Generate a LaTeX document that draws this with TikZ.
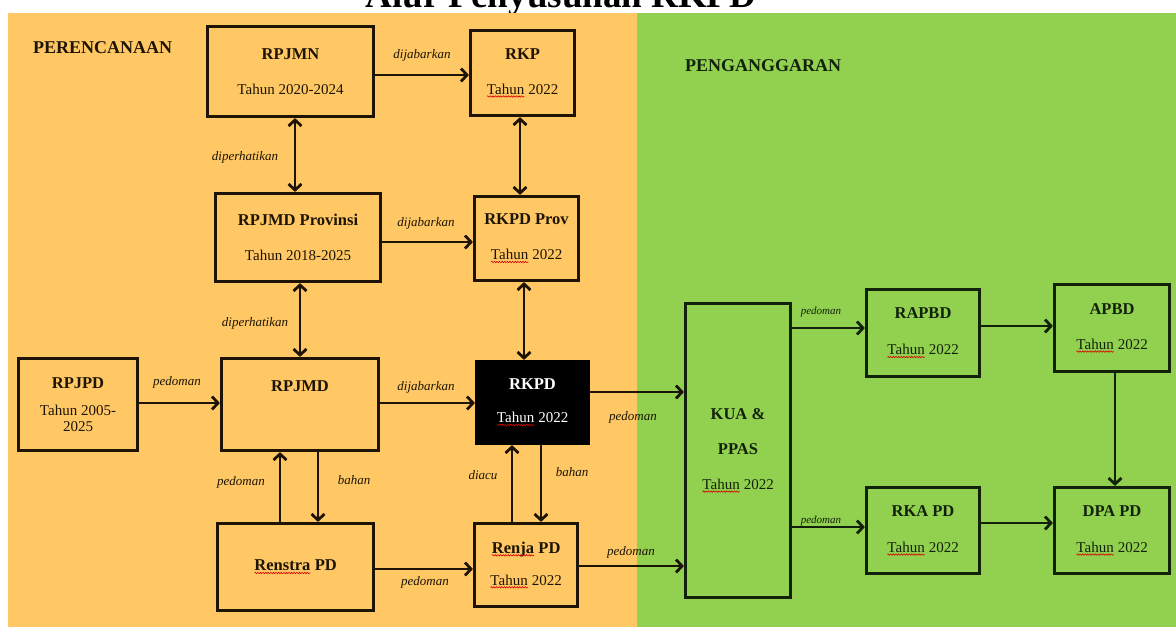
\documentclass[tikz,border=0pt]{standalone}
\usepackage{fontspec}
\setmainfont{Liberation Serif}
\usetikzlibrary{arrows.meta,decorations.pathmorphing}
\definecolor{org}{HTML}{FFC864}
\definecolor{grn}{HTML}{92D050}
\definecolor{inkO}{HTML}{1E1405}
\definecolor{inkG}{HTML}{12220A}
\newcommand\redwave[1]{\tikz[baseline=(w.base)]{\node[shape=rectangle, inner sep=0pt, outer sep=0pt, minimum width=0pt, minimum height=0pt, draw=none, fill=none, align=left] (w) {#1};
  \draw[red!85!black, line width=0.6pt, decorate, decoration={snake, amplitude=0.7pt, segment length=2.6pt}]
  ([yshift=-2.2pt]w.base west) -- ([yshift=-2.2pt]w.base east);}}
\newcommand\ttl[1]{{\fontsize{16.5}{19}\selectfont\bfseries #1}}
\tikzset{
  box/.style={draw=inkO, line width=3.2pt, fill=org, inner sep=0pt, align=center,
    font=\fontsize{15}{18}\selectfont, text=inkO},
  gbox/.style={box, draw=inkG, fill=grn, text=inkG},
  arr/.style={draw=inkO, line width=2.8pt, -{Straight Barb[length=6pt,width=13pt]}},
  garr/.style={arr, draw=inkG},
  darr/.style={arr, {Straight Barb[length=6pt,width=13pt]}-{Straight Barb[length=6pt,width=13pt]}},
  lab/.style={font=\fontsize{13}{15}\selectfont\itshape, text=inkO, inner sep=0pt},
  slab/.style={font=\fontsize{11}{12}\selectfont\itshape, text=inkG, inner sep=0pt},
  head/.style={font=\fontsize{18}{20}\selectfont\bfseries, inner sep=0pt, anchor=base west}
}
\begin{document}
\begin{tikzpicture}[x=1pt,y=-1pt]
\useasboundingbox (0,0) rectangle (1176,627);
\fill[white] (0,0) rectangle (1176,627);
\begin{scope}
\clip (0,0) rectangle (1176,627);
\node[anchor=base, inner sep=0pt, font=\fontsize{37}{40}\selectfont\bfseries] (title) at (561,7) {Alur Penyusunan RKPD};
\end{scope}
\fill[org] (8,13) rectangle (637,627);
\fill[grn] (637,13) rectangle (1176,627);

\node[head, text=inkO] (perenc) at (33,53) {PERENCANAAN};
\node[head, text=inkG] (pengang) at (685,71) {PENGANGGARAN};

% boxes
\node[box, minimum width=166pt, minimum height=90pt] (rpjmn) at (290.5,71.5)
  {\ttl{RPJMN}\\[17pt]Tahun 2020-2024};
\node[box, minimum width=104pt, minimum height=85pt] (rkp) at (522.5,73)
  {\ttl{RKP}\\[17pt]\redwave{Tahun} 2022};
\node[box, minimum width=165pt, minimum height=88pt] (rpjmdprov) at (298,237.5)
  {\ttl{RPJMD Provinsi}\\[17pt]Tahun 2018-2025};
\node[box, minimum width=104pt, minimum height=84pt] (rkpdprov) at (526.5,238.5)
  {\ttl{RKPD Prov}\\[17pt]\redwave{Tahun} 2022};
\node[box, minimum width=119pt, minimum height=92pt] (rpjpd) at (78,404.5)
  {\ttl{RPJPD}\\[9pt]Tahun 2005-\\[-2pt]2025};
\node[box, minimum width=157pt, minimum height=92pt] (rpjmd) at (300,404.5)
  {\ttl{RPJMD}\\[14pt]\strut};
\node[box, fill=black, draw=black, text=white, minimum width=112pt, minimum height=82pt] (rkpd) at (532.5,402.5)
  {\ttl{RKPD}\\[15pt]\redwave{Tahun} 2022};
\node[box, minimum width=156pt, minimum height=87pt] (renstra) at (295.5,567)
  {\ttl{\redwave{Renstra} PD}};
\node[box, minimum width=103pt, minimum height=83pt] (renja) at (526,565)
  {\ttl{\redwave{Renja} PD}\\[14pt]\redwave{Tahun} 2022};
\node[gbox, minimum width=105pt, minimum height=294pt] (kua) at (738,450.5)
  {\ttl{KUA \&}\\[17pt]\ttl{PPAS}\\[17pt]\redwave{Tahun} 2022};
\node[gbox, minimum width=113pt, minimum height=87pt] (rapbd) at (923,333)
  {\ttl{RAPBD}\\[18pt]\redwave{Tahun} 2022};
\node[gbox, minimum width=115pt, minimum height=87pt] (apbd) at (1112,328)
  {\ttl{APBD}\\[17pt]\redwave{Tahun} 2022};
\node[gbox, minimum width=113pt, minimum height=86pt] (rkapd) at (923,530.5)
  {\ttl{RKA PD}\\[18pt]\redwave{Tahun} 2022};
\node[gbox, minimum width=115pt, minimum height=86pt] (dpapd) at (1112,530.5)
  {\ttl{DPA PD}\\[18pt]\redwave{Tahun} 2022};

% connectors
\draw[arr] ([yshift=-3.5pt]rpjmn.east) -- ([yshift=-3.5pt]rpjmn.east -| rkp.west);
\draw[darr] ([xshift=4.5pt]rpjmn.south) -- ([xshift=4.5pt]rpjmn.south |- rpjmdprov.north);
\draw[darr] ([xshift=-2.5pt]rkp.south) -- ([xshift=-2.5pt]rkp.south |- rkpdprov.north);
\draw[arr] ([yshift=-4.5pt]rpjmdprov.east) -- ([yshift=-4.5pt]rpjmdprov.east -| rkpdprov.west);
\draw[darr] ([xshift=2pt]rpjmdprov.south) -- ([xshift=2pt]rpjmdprov.south |- rpjmd.north);
\draw[darr] ([xshift=-2.5pt]rkpdprov.south) -- ([xshift=-2.5pt]rkpdprov.south |- rkpd.north);
\draw[arr] ([yshift=1.5pt]rpjpd.east) -- ([yshift=1.5pt]rpjpd.east -| rpjmd.west);
\draw[arr] ([yshift=1.5pt]rpjmd.east) -- ([yshift=1.5pt]rpjmd.east -| rkpd.west);
\draw[arr] ([yshift=10.5pt]rkpd.east) -- ([yshift=10.5pt]rkpd.east -| kua.west);
\draw[arr] ([xshift=-15.5pt]renstra.north) -- ([xshift=-15.5pt]renstra.north |- rpjmd.south);
\draw[arr] ([xshift=18pt]rpjmd.south) -- ([xshift=18pt]rpjmd.south |- renstra.north);
\draw[arr] ([yshift=-2pt]renstra.east) -- ([yshift=-2pt]renstra.east -| renja.west);
\draw[arr] ([xshift=-14pt]renja.north) -- ([xshift=-14pt]renja.north |- rkpd.south);
\draw[arr] ([xshift=8.5pt]rkpd.south) -- ([xshift=8.5pt]rkpd.south |- renja.north);
\draw[arr] ([yshift=-1pt]renja.east) -- ([yshift=-1pt]renja.east -| kua.west);
\draw[garr] ([yshift=5pt]rapbd.west -| kua.east) -- ([yshift=5pt]rapbd.west);
\draw[garr] ([yshift=7pt]rapbd.east) -- ([yshift=7pt]rapbd.east -| apbd.west);
\draw[garr] ([xshift=3pt]apbd.south) -- ([xshift=3pt]apbd.south |- dpapd.north);
\draw[garr] ([yshift=3.5pt]rkapd.west -| kua.east) -- ([yshift=3.5pt]rkapd.west);
\draw[garr] ([yshift=7.5pt]rkapd.east) -- ([yshift=7.5pt]rkapd.east -| dpapd.west);

% labels
\node[lab] (l1) at (422,55) {dijabarkan};
\node[lab] (l2) at (245,157) {diperhatikan};
\node[lab] (l3) at (426,223) {dijabarkan};
\node[lab] (l4) at (255,323) {diperhatikan};
\node[lab] (l5) at (177,382) {pedoman};
\node[lab] (l6) at (426,387) {dijabarkan};
\node[lab] (l7) at (633,417) {pedoman};
\node[lab] (l8) at (241,482) {pedoman};
\node[lab] (l9) at (354,480) {bahan};
\node[lab] (l10) at (483,475) {diacu};
\node[lab] (l11) at (572,472) {bahan};
\node[lab] (l12) at (425,582) {pedoman};
\node[lab] (l13) at (631,552) {pedoman};
\node[slab] (l14) at (821,312) {pedoman};
\node[slab] (l15) at (821,521) {pedoman};
\end{tikzpicture}
\end{document}
